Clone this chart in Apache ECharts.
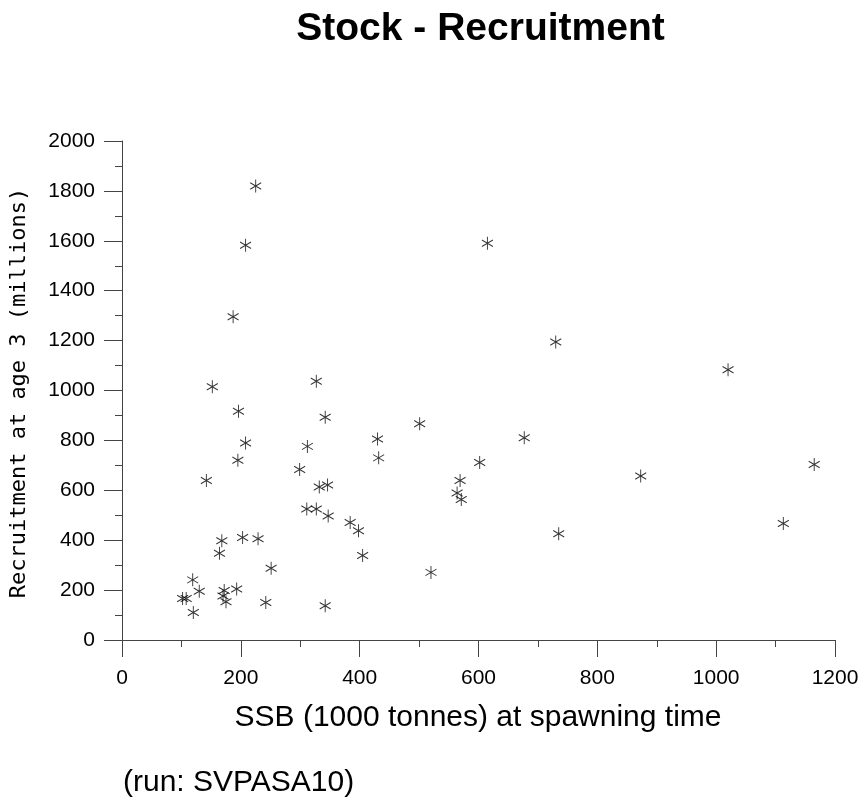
<!DOCTYPE html>
<html>
<head>
<meta charset="utf-8">
<script src="https://cdn.jsdelivr.net/npm/echarts@6/dist/echarts.min.js"></script>
<style>
html,body{margin:0;padding:0;background:#fff;}
#chart{width:863px;height:799px;}
</style>
</head>
<body>
<div id="chart"></div>
<script>
// SSB (1000 tonnes) at spawning time
var ssb = [225, 208, 187, 152, 327, 196, 342, 208, 312, 430, 432, 195, 299, 142, 332, 346,
           311, 327, 347, 384, 398, 405, 168, 203, 229, 164, 251, 119, 130, 102, 108, 172,
           170, 175, 193, 120, 242, 342, 501, 520, 569, 564, 571, 602, 615, 730, 1020, 677,
           873, 1165, 1113, 735];
// Recruitment at age 3 (millions)
var recruitment = [1820, 1582, 1296, 1015, 1037, 917, 893, 790, 776, 806, 730, 720, 683, 639, 613, 621,
                   525, 525, 497, 471, 438, 339, 398, 411, 406, 348, 288, 241, 195, 166, 166, 198,
                   176, 153, 204, 110, 150, 137, 867, 271, 639, 589, 563, 711, 1590, 1194, 1083, 811,
                   657, 703, 467, 426];
var xTicks = {min: 0, max: 1200, interval: 200};
var yTicks = {min: 0, max: 2000, interval: 200};
var titleText = 'Stock - Recruitment';
var xName = 'SSB (1000 tonnes) at spawning time';
var yName = 'Recruitment at age 3 (millions)';
var runText = '(run: SVPASA10)';

var points = ssb.map(function (v, i) { return [v, recruitment[i]]; });
var axisColor = '#444';
var plain = function (v) { return String(v); };
var chart = echarts.init(document.getElementById('chart'), null, {renderer: 'canvas'});
chart.setOption({
  animation: false,
  backgroundColor: '#fff',
  grid: {left: 122, right: 28, top: 141, bottom: 159, containLabel: false},
  xAxis: {
    type: 'value', min: xTicks.min, max: xTicks.max, interval: xTicks.interval,
    axisLine: {show: true, onZero: false, lineStyle: {color: axisColor, width: 1}},
    axisTick: {show: true, inside: false, length: 17, lineStyle: {color: axisColor}},
    minorTick: {show: true, splitNumber: 2, length: 7, lineStyle: {color: axisColor}},
    splitLine: {show: false},
    axisLabel: {color: '#000', fontFamily: 'Liberation Sans', fontSize: 21, margin: 28, formatter: plain}
  },
  yAxis: {
    type: 'value', min: yTicks.min, max: yTicks.max, interval: yTicks.interval,
    axisLine: {show: true, onZero: false, lineStyle: {color: axisColor, width: 1}},
    axisTick: {show: true, inside: false, length: 18, lineStyle: {color: axisColor}},
    minorTick: {show: true, splitNumber: 2, length: 7, lineStyle: {color: axisColor}},
    splitLine: {show: false},
    axisLabel: {color: '#000', fontFamily: 'Liberation Sans', fontSize: 21, margin: 27, formatter: plain}
  },
  graphic: [
    {type: 'text', x: 480.5, y: 29.5, style: {text: titleText, fill: '#000', font: 'bold 39px "Liberation Sans"', textAlign: 'center', textVerticalAlign: 'middle'}},
    {type: 'text', x: 478, y: 718, style: {text: xName, fill: '#000', font: '30px "Liberation Sans"', textAlign: 'center', textVerticalAlign: 'middle'}},
    {type: 'text', x: 123, y: 782.5, style: {text: runText, fill: '#000', font: '30px "Liberation Sans"', textAlign: 'left', textVerticalAlign: 'middle'}},
    {type: 'text', x: 19, y: 393, rotation: Math.PI / 2, style: {text: yName, fill: '#000', font: '22px "DejaVu Sans Mono"', textAlign: 'center', textVerticalAlign: 'middle'}}
  ],
  series: [{
    type: 'scatter',
    data: points,
    symbol: 'path://M6,0L6,12M0.8,3L11.2,9M0.8,9L11.2,3',
    symbolSize: [11, 13],
    itemStyle: {color: '#000', borderColor: '#000', borderWidth: 1},
    emphasis: {disabled: true}
  }]
});
</script>
</body>
</html>
